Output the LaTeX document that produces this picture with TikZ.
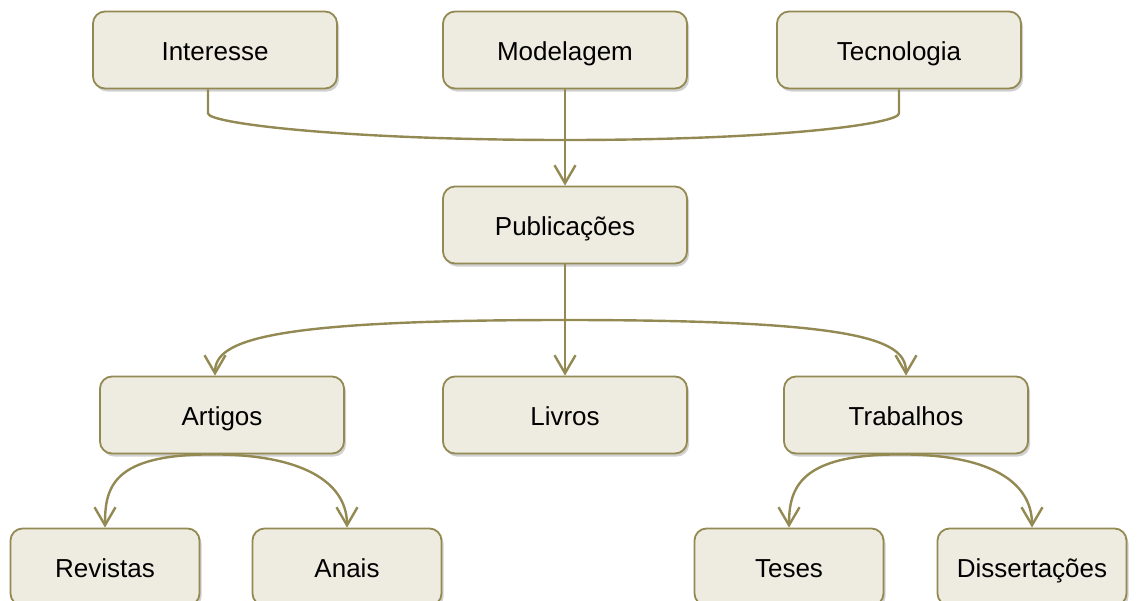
\documentclass[tikz,border=0pt]{standalone}
\usepackage{fontspec}
\setmainfont{Liberation Sans}
\usetikzlibrary{arrows.meta,shadows,calc}
\definecolor{olivedraw}{HTML}{938953}
\definecolor{tanfill}{HTML}{EEECE1}

\begin{document}
\begin{tikzpicture}[x=0.5pt,y=-0.5pt,
    box/.style={draw=olivedraw, line width=0.9pt, fill=tanfill, rounded corners=6pt,
        minimum width=122pt, minimum height=38.5pt, font=\fontsize{13}{15}\selectfont,
        text height=11pt, text depth=1pt,
        drop shadow={shadow xshift=1pt, shadow yshift=-1.5pt, fill=black!30, opacity=0.6}},
    smallbox/.style={box, minimum width=94.5pt},
    conn/.style={draw=olivedraw, line width=1.2pt},
    arr/.style={conn, -{Straight Barb[length=9pt,width=10.5pt]}}]
    \useasboundingbox (0,0) rectangle (1140,600);
    \node[box] (int) at (215,50) {Interesse};
    \node[box] (mod) at (565,50) {Modelagem};
    \node[box] (tec) at (899,50) {Tecnologia};
    \node[box] (pub) at (565,225) {Publicações};
    \node[box] (art) at (222,415) {Artigos};
    \node[box] (liv) at (565,415) {Livros};
    \node[box] (tra) at (906,415) {Trabalhos};
    \node[smallbox] (rev) at (105,567) {Revistas};
    \node[smallbox] (ana) at (347,567) {Anais};
    \node[smallbox] (tes) at (789,567) {Teses};
    \node[smallbox] (dis) at (1032,567) {Dissertações};
    \coordinate (topjoin) at (565,140);
    \coordinate (midjoin) at ($(pub.south)!0.5!(liv.north)$);
    \draw[conn] ($(int.south)+(-7,0)$) -- ++(0,24) .. controls +(0,10) and +(-220,0) .. (topjoin);
    \draw[conn] (tec.south) -- ++(0,24) .. controls +(0,10) and +(220,0) .. (topjoin);
    \draw[arr] (mod) -- (pub);
    \draw[arr] (pub) -- (liv);
    \draw[arr] (midjoin) .. controls +(-300,0) and +(0,-35) .. ($(art.north)+(-7,0)$);
    \draw[arr] (midjoin) .. controls +(300,0) and +(0,-35) .. (tra.north);
    \draw[arr] ($(art.south)+(-10,0)$) .. controls +(-100,0) and +(0,-40) .. (rev.north);
    \draw[arr] ($(art.south)+(-10,0)$) .. controls +(100,0) and +(0,-40) .. (ana.north);
    \draw[arr] ($(tra.south)+(-6,0)$) .. controls +(-100,0) and +(0,-40) .. (tes.north);
    \draw[arr] ($(tra.south)+(-6,0)$) .. controls +(100,0) and +(0,-40) .. (dis.north);
\end{tikzpicture}
\end{document}
